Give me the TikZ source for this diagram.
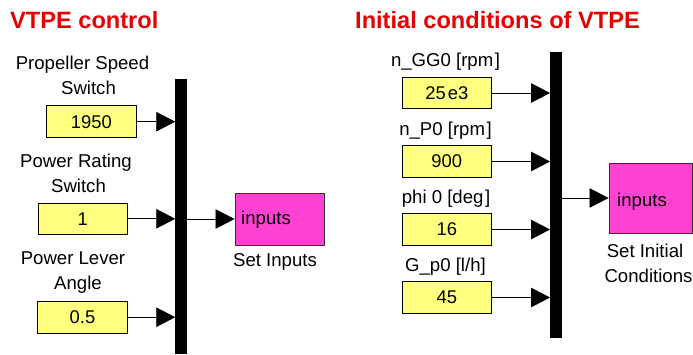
\documentclass[tikz,border=0pt]{standalone}
\usepackage{fontspec}
\setmainfont{Liberation Sans}
\usetikzlibrary{arrows.meta}
\definecolor{ttlred}{RGB}{230,0,0}
\definecolor{cyel}{RGB}{255,255,128}
\definecolor{cmag}{RGB}{255,66,210}
\tikzset{
  lbl/.style={inner sep=0pt, anchor=base, font=\fontsize{18.6}{20}\selectfont},
  ttl/.style={inner sep=0pt, anchor=base west, text=ttlred, font=\fontsize{23.6}{26}\selectfont\bfseries},
  constbox/.style={draw=black, line width=0.9pt, fill=cyel, minimum width=89.5pt, minimum height=31.5pt, inner sep=0pt, font=\fontsize{18.4}{20}\selectfont},
  subbox/.style={draw=black!80, line width=0.9pt, fill=cmag, inner sep=0pt},
  busbar/.style={fill=black, draw=none, inner sep=0pt, minimum width=11.5pt},
  sig/.style={line width=0.8pt, -{Triangle[length=19pt,width=19.5pt]}}
}
\begin{document}
\begin{tikzpicture}[x=1pt,y=-1pt]
\clip (0,0) rectangle (693,355);
\useasboundingbox (0,0) rectangle (693,355);
% titles
\node[ttl] (t1) at (10,29) {VTPE control};
\node[ttl] (t2) at (355,29) {Initial conditions of VTPE};
% left part
\node[lbl] (l1a) at (82.5,70) {Propeller Speed};
\node[lbl] (l1b) at (88.5,95) {Switch};
\node[constbox] (c1) at (91.3,121.7) {1950};
\node[lbl] (l2a) at (76,168) {Power Rating};
\node[lbl] (l2b) at (78.5,193) {Switch};
\node[constbox] (c2) at (82.7,218.8) {1};
\node[lbl] (l3a) at (73,265) {Power Lever};
\node[lbl] (l3b) at (78,290) {Angle};
\node[constbox] (c3) at (82.5,317.2) {0.5};
\node[busbar, minimum height=275pt] (barL) at (181.2,216.5) {};
\node[subbox, minimum width=89pt, minimum height=52pt] (setin) at (279.5,219) {};
\node[lbl, anchor=base west] (inL) at (241,225) {inputs};
\node[lbl] (sL) at (275,267) {Set Inputs};
\draw[sig] (c1.east) -- (c1.east -| barL.west);
\draw[sig] (c2.east) -- (c2.east -| barL.west);
\draw[sig] (c3.east) -- (c3.east -| barL.west);
\draw[sig] (barL.east |- setin.west) -- (setin.west);
% right part
\node[lbl] (r1) at (445.5,67) {n\_GG0 [rpm\kern1.5pt]};
\node[constbox] (d1) at (446.8,93) {25\kern2pt e3};
\node[lbl] (r2) at (445.5,136) {n\_P0 [rpm\kern1.5pt]};
\node[constbox] (d2) at (446.8,161.5) {900};
\node[lbl] (r3) at (446,204) {phi 0 [deg\kern1.5pt]};
\node[constbox] (d3) at (446.8,229.5) {16};
\node[lbl] (r4) at (445.5,272) {G\_p0 [l/h]};
\node[constbox] (d4) at (446.8,297.5) {45};
\node[busbar, minimum height=286pt] (barR) at (556,195) {};
\node[subbox, minimum width=83pt, minimum height=70pt] (setic) at (650.5,198) {};
\node[lbl, anchor=base west] (inR) at (617,207) {inputs};
\node[lbl] (sR1) at (645,258) {Set Initial};
\node[lbl] (sR2) at (648.5,283) {Conditions};
\draw[sig] (d1.east) -- (d1.east -| barR.west);
\draw[sig] (d2.east) -- (d2.east -| barR.west);
\draw[sig] (d3.east) -- (d3.east -| barR.west);
\draw[sig] (d4.east) -- (d4.east -| barR.west);
\draw[sig] (barR.east |- setic.west) -- (setic.west);
\end{tikzpicture}
\end{document}
